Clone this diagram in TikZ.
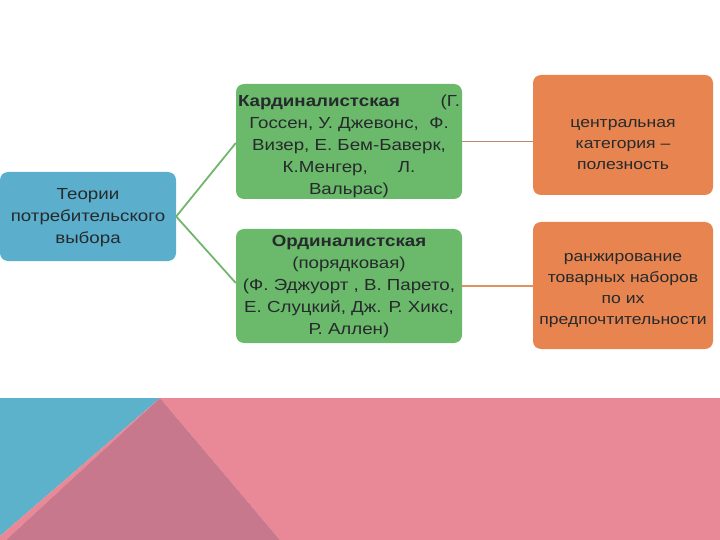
\documentclass[tikz,border=0pt]{standalone}
\usepackage{fontspec}
\setmainfont{Liberation Sans}[FakeStretch=1.17]
\definecolor{bluebox}{HTML}{5BAFCC}
\definecolor{greenbox}{HTML}{6BB96B}
\definecolor{orangebox}{HTML}{E8844F}
\definecolor{greenline}{HTML}{72B56C}
\definecolor{orangeline1}{HTML}{B98A6E}
\definecolor{orangeline2}{HTML}{E0915E}
\definecolor{decoblue}{HTML}{5CB1CB}
\definecolor{decodark}{HTML}{C8788C}
\definecolor{decopink}{HTML}{E98896}
\definecolor{txt}{HTML}{262A2C}
\begin{document}
\begin{tikzpicture}[x=1pt,y=-1pt,
  box/.style={rounded corners=8pt, inner sep=0pt},
  label/.style={align=center, text=txt, font=\fontsize{16}{22}\selectfont, inner sep=0pt},
  olabel/.style={align=center, text=txt, font=\fontsize{15}{21}\selectfont, inner sep=0pt},
  glink/.style={greenline, line width=1.8pt},
  olink/.style={line width=1.8pt}]
\useasboundingbox (0,0) rectangle (720,540);
% background decoration
\fill[decopink] (160,398) -- (720,398) -- (720,540) -- (280,540) -- cycle;
\fill[decoblue] (0,398) -- (160,398) -- (0,536) -- cycle;
\fill[decopink] (0,536) -- (160,398) -- (6,540) -- (0,540) -- cycle;
\fill[decodark] (160,398) -- (280,540) -- (6,540) -- cycle;
% boxes
\node[box, fill=bluebox, minimum width=176pt, minimum height=89pt] (th) at (88,216.5) {};
\node[box, fill=greenbox, minimum width=226pt, minimum height=115pt] (card) at (349,141.5) {};
\node[box, fill=greenbox, minimum width=226pt, minimum height=114pt] (ord) at (349,286) {};
\node[box, fill=orangebox, minimum width=180pt, minimum height=120pt] (util) at (623,135) {};
\node[box, fill=orangebox, minimum width=180pt, minimum height=127pt] (rank) at (623,285.5) {};
% texts
\node[label] (thT) at ([yshift=-1pt]th.center) {Теории\\потребительского\\выбора};
\node[label] (cardT) at ([yshift=-5pt]card.center)
  {\makebox[222pt]{\textbf{Кардиналистская}\hfill(Г.}\\Госсен, У. Джевонс,\ \ Ф.\\Визер, Е. Бем-Баверк,\\К.Менгер,\hspace{30pt}Л.\\Вальрас)};
\node[label] (ordT) at ([yshift=-1pt]ord.center)
  {\textbf{Ординалистская}\\(порядковая)\\(Ф. Эджуорт , В. Парето,\\Е. Слуцкий, Дж. Р. Хикс,\\Р. Аллен)};
\node[olabel] (utilT) at ([yshift=-10pt]util.center) {центральная\\категория --\\полезность};
\node[olabel] (rankT) at ([yshift=-5pt]rank.center) {ранжирование\\товарных наборов\\по их\\предпочтительности};
% connectors
\draw[glink] (th.east) -- ([yshift=-1.5pt]card.west);
\draw[glink] (th.east) -- ([yshift=3pt]ord.west);
\draw[olink, orangeline1] (card.east) -- (util.west |- card.east);
\draw[olink, orangeline2] (ord.east) -- (rank.west |- ord.east);
\end{tikzpicture}
\end{document}
